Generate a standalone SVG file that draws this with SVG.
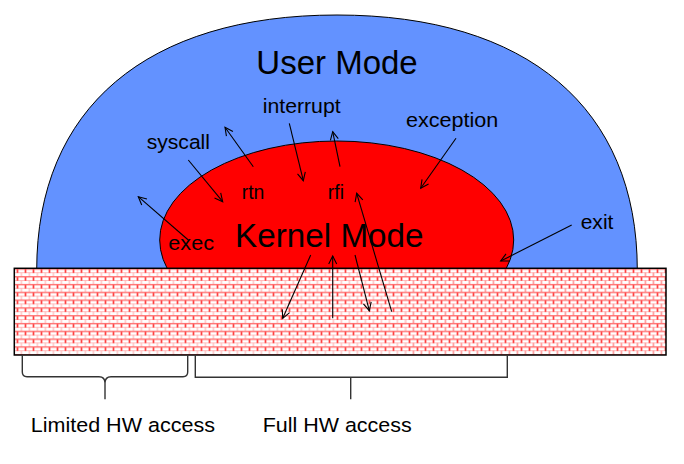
<svg xmlns="http://www.w3.org/2000/svg" width="684" height="464" viewBox="0 0 684 464">
  <style>
    .lbl { font-family: "Liberation Sans", Arial, sans-serif; fill: #000; }
    .big { font-size: 33px; }
    .sm { font-size: 20.5px; }
    .arrow { fill: none; stroke: #000; stroke-width: 1.1; marker-end: url(#head); }
    .brace { fill: none; stroke: #333; stroke-width: 1.4; }
  </style>
  <defs>
    <marker id="head" markerUnits="userSpaceOnUse" markerWidth="12" markerHeight="12" refX="9" refY="6" orient="auto">
      <path d="M1,2 L9,6 L1,10" fill="none" stroke="#000" stroke-width="1.1"/>
    </marker>
    <pattern id="brick" patternUnits="userSpaceOnUse" x="14.3" y="268.3" width="8" height="7.8">
      <rect width="8" height="7.8" fill="#fff"/>
      <rect x="0" y="0" width="8" height="1.4" fill="#ff7070"/>
      <rect x="0" y="3.9" width="8" height="1" fill="#ffc0c0"/>
      <rect x="2.6" y="1.2" width="1.3" height="3.4" fill="#ff0000"/>
      <rect x="6.6" y="4.4" width="1" height="3.4" fill="#ffa8a8"/>
    </pattern>
    <pattern id="brick2" patternUnits="userSpaceOnUse" x="14.3" y="268.3" width="8" height="7.8">
      <rect width="8" height="7.8" fill="#fff"/>
      <rect x="0" y="0" width="8" height="1.4" fill="#ff7070"/>
      <rect x="0" y="3.9" width="8" height="1" fill="#ffc0c0"/>
      <rect x="2.6" y="1.2" width="1.3" height="3.4" fill="#ff0000"/>
      <rect x="6.6" y="4.4" width="1.1" height="3.4" fill="#ff6a6a"/>
    </pattern>
  </defs>

  <g id="user-mode">
    <path d="M36.7,270 C36.7,108 147,15 337,15 C527,15 637.3,108 637.3,270 Z" fill="#6392ff" stroke="#000" stroke-width="1"/>
  </g>

  <g id="kernel-mode">
    <ellipse cx="336.7" cy="240" rx="177" ry="99" fill="#ff0000" stroke="#000" stroke-width="1"/>
  </g>

  <g id="hardware">
    <rect x="14.3" y="268.3" width="651.7" height="86.7" fill="url(#brick)"/>
    <rect x="406" y="268.3" width="260" height="86.7" fill="url(#brick2)"/>
    <rect x="14.3" y="268.3" width="651.7" height="86.7" fill="none" stroke="#000" stroke-width="1.5"/>
  </g>

  <g id="connectors">
    <line class="arrow" x1="188.3" y1="160" x2="222.7" y2="201.7"/>
    <line class="arrow" x1="253.3" y1="166.7" x2="225" y2="127.3"/>
    <line class="arrow" x1="289.3" y1="123.3" x2="303.3" y2="180.7"/>
    <line class="arrow" x1="188.3" y1="240" x2="138.3" y2="196.7"/>
    <line class="arrow" x1="340" y1="166.7" x2="332.7" y2="131.7"/>
    <line class="arrow" x1="456" y1="138.3" x2="420.7" y2="188.3"/>
    <line class="arrow" x1="391.7" y1="311.7" x2="356.7" y2="193.3"/>
    <line class="arrow" x1="310.7" y1="255" x2="282.7" y2="318.3"/>
    <line class="arrow" x1="332.7" y1="318.3" x2="332.7" y2="256"/>
    <line class="arrow" x1="355" y1="255" x2="369.3" y2="310.7"/>
    <line class="arrow" x1="571.7" y1="225" x2="500.7" y2="261"/>
  </g>

  <g id="brackets">
    <path class="brace" d="M22.3,355 L22.3,372 Q22.3,376.7 27,376.7 L99,376.7 Q105,376.7 105,383 L105,399.3 M105,383 Q105,376.7 111,376.7 L183,376.7 Q187.7,376.7 187.7,372 L187.7,355"/>
    <path class="brace" d="M195.3,355 L195.3,377.3 L507.3,377.3 L507.3,355 M350.7,377.3 L350.7,399.3"/>
  </g>

  <g id="labels">
    <text class="lbl big" x="337" y="74" text-anchor="middle">User Mode</text>
    <text class="lbl big" x="235" y="247" textLength="188.6" lengthAdjust="spacingAndGlyphs">Kernel Mode</text>
    <text class="lbl sm" x="262.7" y="112.7" textLength="78" lengthAdjust="spacingAndGlyphs">interrupt</text>
    <text class="lbl sm" x="146.7" y="149.3" textLength="63.3" lengthAdjust="spacingAndGlyphs">syscall</text>
    <text class="lbl sm" x="406" y="127.3" textLength="92.3" lengthAdjust="spacingAndGlyphs">exception</text>
    <text class="lbl sm" x="241.7" y="199.3" textLength="22.7" lengthAdjust="spacingAndGlyphs">rtn</text>
    <text class="lbl sm" x="327.7" y="199.3" textLength="16.3" lengthAdjust="spacingAndGlyphs">rfi</text>
    <text class="lbl sm" x="168.3" y="250" textLength="45.7" lengthAdjust="spacingAndGlyphs">exec</text>
    <text class="lbl sm" x="580.7" y="229" textLength="32.7" lengthAdjust="spacingAndGlyphs">exit</text>
    <text class="lbl sm" x="30.7" y="431.7" textLength="184.3" lengthAdjust="spacingAndGlyphs">Limited HW access</text>
    <text class="lbl sm" x="262.7" y="431.7" textLength="149" lengthAdjust="spacingAndGlyphs">Full HW access</text>
  </g>
</svg>
